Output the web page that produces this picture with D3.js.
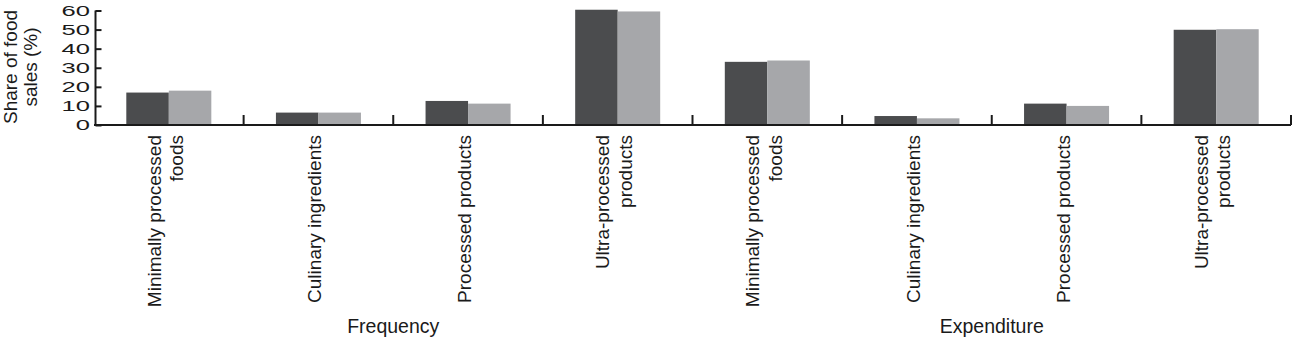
<!DOCTYPE html>
<html>
<head>
<meta charset="utf-8">
<script src="https://cdn.jsdelivr.net/npm/d3@7"></script>
<style>
  body { margin: 0; background: #fff; }
  svg { display: block; font-family: "Liberation Sans", Arial, Helvetica, sans-serif; }
</style>
</head>
<body>
<svg width="1292" height="339"></svg>
<script>
const groups = ["Frequency", "Expenditure"];
const categories = ["Minimally processed foods", "Culinary ingredients", "Processed products", "Ultra-processed products"];
const labelLines = [["Minimally processed", "foods"], ["Culinary ingredients"], ["Processed products"], ["Ultra-processed", "products"]];
const seriesNames = ["A", "B"];
const seriesA = [17.0, 6.5, 12.6, 60.4, 33.1, 4.7, 11.2, 49.9];
const seriesB = [18.0, 6.5, 11.2, 59.5, 33.8, 3.5, 10.0, 50.2];
const yTicks = [0, 10, 20, 30, 40, 50, 60];

const colors = { A: "#4b4c4e", B: "#a6a7aa" };

const svg = d3.select("svg");

// one row per bar group: group x category
const rows = [];
groups.forEach((grp, gi) => {
  categories.forEach((cat, ci) => {
    const i = gi * categories.length + ci;
    rows.push({ key: grp + "|" + cat, group: grp, ci, A: seriesA[i], B: seriesB[i] });
  });
});

const x = d3.scaleBand().domain(rows.map(d => d.key)).range([94, 1291]).padding(0);
const xs = d3.scaleBand().domain(seriesNames).range([0, x.bandwidth()]).paddingInner(0).paddingOuter(0.76);
const y = d3.scaleLinear().domain([0, 60]).range([125, 10.5]);

// bars
const bars = svg.append("g");
bars.selectAll("g")
  .data(rows)
  .join("g")
  .attr("transform", d => `translate(${x(d.key)},0)`)
  .selectAll("rect")
  .data(d => seriesNames.map(s => ({ s, v: d[s] })))
  .join("rect")
  .attr("x", d => xs(d.s))
  .attr("width", xs.bandwidth())
  .attr("y", d => y(d.v))
  .attr("height", d => y(0) - y(d.v))
  .attr("fill", d => colors[d.s]);

// y axis, ticks pointing inward
const yAxis = svg.append("g")
  .attr("transform", "translate(95.5,0)")
  .call(d3.axisLeft(y).tickValues(yTicks).tickSize(-6).tickPadding(3.4));
yAxis.select(".domain").attr("stroke", "#1a1a1a").attr("stroke-width", 2).attr("d", `M0,${y(0)}V${y(60)}`);
yAxis.selectAll(".tick line").attr("stroke", "#1a1a1a").attr("stroke-width", 2);
yAxis.selectAll(".tick text")
  .attr("font-size", 15.5)
  .attr("fill", "#1a1a1a")
  .attr("font-family", "\"Liberation Sans\", Arial, sans-serif")
  .attr("transform", "scale(1.65,1)");

// x axis line and separators between bar groups
const xAxis = svg.append("g");
xAxis.append("line")
  .attr("x1", 94).attr("x2", 1291)
  .attr("y1", y(0)).attr("y2", y(0))
  .attr("stroke", "#1a1a1a").attr("stroke-width", 2);
xAxis.selectAll(".sep")
  .data(rows)
  .join("line")
  .attr("class", "sep")
  .attr("x1", d => x(d.key) + x.bandwidth()).attr("x2", d => x(d.key) + x.bandwidth())
  .attr("y1", y(0)).attr("y2", y(0) - 10)
  .attr("stroke", "#1a1a1a").attr("stroke-width", 2);

// rotated category labels
const lineH = 22.5;
xAxis.selectAll(".cat")
  .data(rows)
  .join("text")
  .attr("class", "cat")
  .attr("text-anchor", "end")
  .attr("font-size", 19)
  .attr("fill", "#1a1a1a")
  .attr("transform", d => `translate(${x(d.key) + x.bandwidth() / 2 + 3},135) rotate(-90)`)
  .each(function(d) {
    const lines = labelLines[d.ci];
    d3.select(this).selectAll("tspan")
      .data(lines)
      .join("tspan")
      .attr("x", 0)
      .attr("y", (t, i) => (i - (lines.length - 1) / 2) * lineH)
      .text(t => t);
  });

// group labels
svg.selectAll(".grp")
  .data(groups)
  .join("text")
  .attr("class", "grp")
  .attr("text-anchor", "middle")
  .attr("font-size", 19.5)
  .attr("fill", "#1a1a1a")
  .attr("x", g => {
    const keys = rows.filter(r => r.group === g).map(r => r.key);
    return (x(keys[0]) + x(keys[keys.length - 1]) + x.bandwidth()) / 2;
  })
  .attr("y", 333)
  .text(g => g);

// y title
svg.append("text")
  .attr("text-anchor", "middle")
  .attr("font-size", 19)
  .attr("fill", "#1a1a1a")
  .attr("transform", "translate(16.5,67) rotate(-90)")
  .selectAll("tspan")
  .data(["Share of food", "sales (%)"])
  .join("tspan")
  .attr("x", 0)
  .attr("y", (t, i) => i * 20.5)
  .text(t => t);
</script>
</body>
</html>
